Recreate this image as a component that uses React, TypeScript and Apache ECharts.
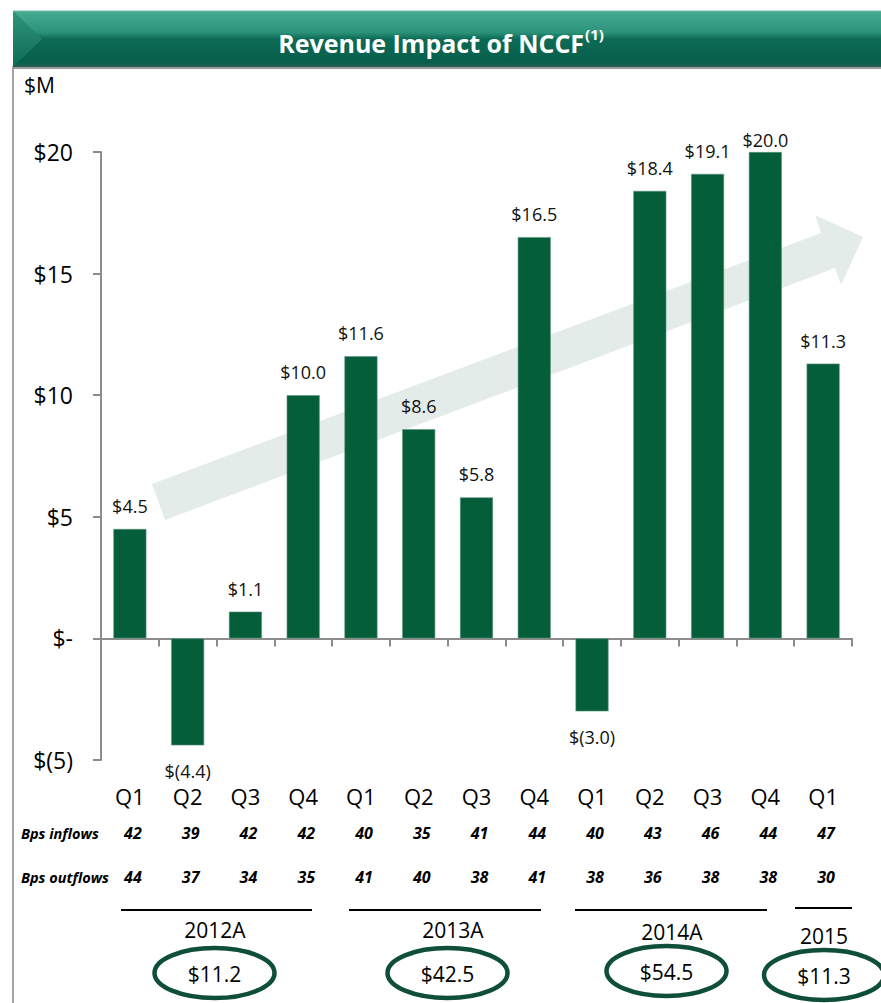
import React, { useEffect, useRef } from "react";
import * as echarts from "echarts";

const categories = ["Q1", "Q2", "Q3", "Q4", "Q1", "Q2", "Q3", "Q4", "Q1", "Q2", "Q3", "Q4", "Q1"];
const values = [4.5, -4.4, 1.1, 10.0, 11.6, 8.6, 5.8, 16.5, -3.0, 18.4, 19.1, 20.0, 11.3];
const bpsInflows = [42, 39, 42, 42, 40, 35, 41, 44, 40, 43, 46, 44, 47];
const bpsOutflows = [44, 37, 34, 35, 41, 40, 38, 41, 38, 36, 38, 38, 30];
const yearLabels = ["2012A", "2013A", "2014A", "2015"];
const yearTotals = ["$11.2", "$42.5", "$54.5", "$11.3"];
const yMin = -5;
const yMax = 20;
const yInterval = 5;

const FONT = "'Open Sans', 'Noto Sans', sans-serif";
const BAR = "#045E3A";
const AXIS = "#8C8C8C";

// annotation layout (decorative, not data marks)
const yearLines = [
  [121, 312, 910],
  [349, 541, 910],
  [575, 767, 910],
  [795, 852, 908],
];
const yearLabelPos = [
  [215, 930],
  [453, 930],
  [672, 932],
  [824, 936],
];
const ellipsePos = [
  [214.5, 973],
  [447.5, 973],
  [666.5, 971],
  [824, 975],
];

function fmtVal(v: number) {
  return v < 0 ? `$(${(-v).toFixed(1)})` : `$${v.toFixed(1)}`;
}
function fmtAxis(v: number) {
  if (v === 0) return "$-";
  return v < 0 ? `$(${-v})` : `$${v}`;
}

export default function App() {
  const ref = useRef<HTMLDivElement>(null);
  useEffect(() => {
    document.body.style.margin = "0";
    if (!ref.current) return;
    const chart = echarts.init(ref.current, null, { renderer: "svg" });

    const graphics: any[] = [];
    // panel border
    graphics.push({
      type: "line",
      shape: { x1: 13, y1: 66, x2: 13, y2: 1003 },
      style: { stroke: "#A6A6A6", lineWidth: 2 },
      z: 1,
    });
    graphics.push({
      type: "line",
      shape: { x1: 13, y1: 68, x2: 881, y2: 68 },
      style: { stroke: "#9A9A9A", lineWidth: 2 },
      z: 1,
    });
    // banner
    graphics.push({
      type: "rect",
      shape: { x: 13, y: 11, width: 868, height: 56 },
      style: {
        fill: new echarts.graphic.LinearGradient(0, 0, 0, 1, [
          { offset: 0, color: "#46AC92" },
          { offset: 0.38, color: "#2C937A" },
          { offset: 0.5, color: "#0C6A55" },
          { offset: 0.92, color: "#075F4B" },
          { offset: 1, color: "#2A5F50" },
        ]),
      },
      z: 2,
    });
    graphics.push({
      type: "polygon",
      shape: { points: [[13, 11], [42, 39], [13, 67]] },
      style: {
        fill: new echarts.graphic.LinearGradient(0, 0, 0, 1, [
          { offset: 0, color: "#2F957B" },
          { offset: 1, color: "#0E6B55" },
        ]),
      },
      z: 3,
    });
    graphics.push({
      type: "line",
      shape: { x1: 13, y1: 11, x2: 881, y2: 11 },
      style: { stroke: "#7FB9A8", lineWidth: 1 },
      z: 3,
    });
    graphics.push({
      type: "text",
      x: 441,
      y: 40,
      style: {
        text: "{a|Revenue Impact of NCCF}{b|(1)}",
        align: "center",
        verticalAlign: "middle",
        rich: {
          a: { fontFamily: FONT, fontWeight: "bold", fontSize: 25, fill: "#FFFFFF", lineHeight: 30, verticalAlign: "bottom" },
          b: { fontFamily: FONT, fontWeight: "bold", fontSize: 15, fill: "#FFFFFF", lineHeight: 30, verticalAlign: "top", padding: [1, 0, 0, 1] },
        },
      },
      z: 4,
    });
    // unit
    graphics.push({
      type: "text",
      x: 24,
      y: 85,
      style: { text: "$M", fontFamily: FONT, fontSize: 21, fill: "#000", verticalAlign: "middle" },
      z: 4,
    });
    // trend arrow
    graphics.push({
      type: "polygon",
      shape: {
        points: [
          [152, 484],
          [821, 233],
          [815, 215],
          [863, 237],
          [841, 285],
          [835, 268],
          [165, 520],
        ],
      },
      style: { fill: "#E4ECEA" },
      z: 0,
    });
    // row headers
    graphics.push({
      type: "text",
      x: 21,
      y: 833,
      style: { text: "Bps inflows", fontFamily: FONT, fontSize: 14.5, fontWeight: "bold", fontStyle: "italic", fill: "#000", verticalAlign: "middle" },
    });
    graphics.push({
      type: "text",
      x: 21,
      y: 877,
      style: { text: "Bps outflows", fontFamily: FONT, fontSize: 14.5, fontWeight: "bold", fontStyle: "italic", fill: "#000", verticalAlign: "middle" },
    });
    // year groups
    yearLabels.forEach((lab, i) => {
      const [x1, x2, y] = yearLines[i];
      graphics.push({
        type: "line",
        shape: { x1, y1: y, x2, y2: y },
        style: { stroke: "#000", lineWidth: 2 },
      });
      const [lx, ly] = yearLabelPos[i];
      graphics.push({
        type: "text",
        x: lx,
        y: ly,
        style: { text: lab, fontFamily: FONT, fontSize: 21, fill: "#000", align: "center", verticalAlign: "middle" },
      });
      const [cx, cy] = ellipsePos[i];
      graphics.push({
        type: "ellipse",
        shape: { cx, cy, rx: 60, ry: 25 },
        style: { fill: "none", stroke: "#0E4E3A", lineWidth: 4.5 },
      });
      graphics.push({
        type: "text",
        x: cx,
        y: cy + 1,
        style: { text: yearTotals[i], fontFamily: FONT, fontSize: 21, fill: "#000", align: "center", verticalAlign: "middle" },
      });
    });

    const seriesData = values.map((v) => {
      if (v < 0) return { value: v, label: { position: "bottom", distance: 17 } };
      if (v >= yMax) return { value: v, label: { position: "top", distance: 3 } };
      return { value: v };
    });

    const hiddenAxisBase = {
      type: "category",
      data: categories,
      position: "bottom",
      gridIndex: 0,
      axisLine: { show: false, onZero: false },
      axisTick: { show: false },
      splitLine: { show: false },
    };

    chart.setOption({
      animation: false,
      backgroundColor: "#FFFFFF",
      grid: { left: 101, right: 29, top: 152, bottom: 243, containLabel: false, outerBoundsMode: "none" },
      xAxis: [
        {
          type: "category",
          data: categories,
          position: "bottom",
          axisLine: { show: true, onZero: true, lineStyle: { color: AXIS, width: 2 } },
          axisTick: { show: true, length: 8, lineStyle: { color: AXIS, width: 2 } },
          axisLabel: { show: false },
          splitLine: { show: false },
        },
        {
          ...hiddenAxisBase,
          axisLabel: { show: true, margin: 25, fontFamily: FONT, fontSize: 22, color: "#000", interval: 0 },
        },
        {
          ...hiddenAxisBase,
          axisLabel: {
            show: true,
            margin: 65,
            fontFamily: FONT,
            fontSize: 16,
            fontWeight: "bold",
            fontStyle: "italic",
            color: "#000",
            interval: 0,
            padding: [0, 0, 0, 6],
            formatter: (_v: string, i: number) => String(bpsInflows[i]),
          },
        },
        {
          ...hiddenAxisBase,
          axisLabel: {
            show: true,
            margin: 109,
            fontFamily: FONT,
            fontSize: 16,
            fontWeight: "bold",
            fontStyle: "italic",
            color: "#000",
            interval: 0,
            padding: [0, 0, 0, 6],
            formatter: (_v: string, i: number) => String(bpsOutflows[i]),
          },
        },
      ],
      yAxis: {
        type: "value",
        min: yMin,
        max: yMax,
        interval: yInterval,
        axisLine: { show: true, lineStyle: { color: AXIS, width: 2 } },
        axisTick: { show: true, length: 8, lineStyle: { color: AXIS, width: 2 } },
        splitLine: { show: false },
        axisLabel: { margin: 28, fontFamily: FONT, fontSize: 23, color: "#000", formatter: fmtAxis },
      },
      graphic: { elements: graphics },
      series: [
        {
          type: "bar",
          xAxisIndex: 0,
          yAxisIndex: 0,
          data: seriesData,
          barWidth: 33,
          z: 2,
          itemStyle: { color: BAR, borderColor: "#5E9580", borderWidth: 0.6 },
          label: {
            show: true,
            position: "top",
            distance: 14,
            fontFamily: FONT,
            fontSize: 18,
            color: "#111",
            formatter: (p: any) => fmtVal(p.value),
          },
        },
      ],
    });

    return () => chart.dispose();
  }, []);

  return <div ref={ref} style={{ width: 881, height: 1003 }} />;
}
